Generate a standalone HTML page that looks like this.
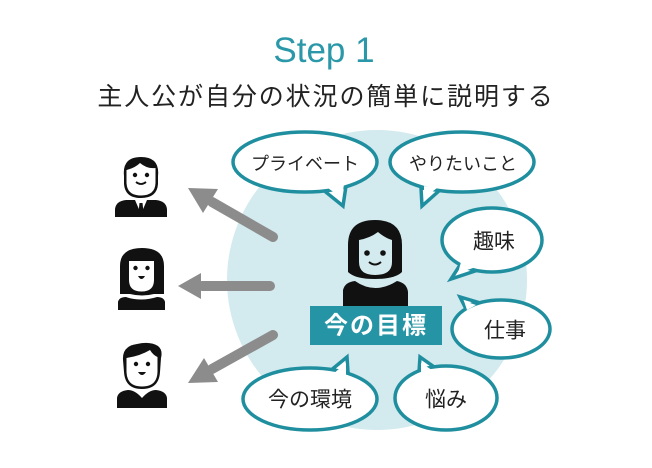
<!DOCTYPE html>
<html><head><meta charset="utf-8"><style>
html,body{margin:0;padding:0;background:#fff;}
svg{display:block;}
text{font-family:"Liberation Sans","Noto Sans CJK JP",sans-serif;}
</style></head><body>
<svg width="652" height="468" viewBox="0 0 652 468" xmlns="http://www.w3.org/2000/svg">
<rect width="652" height="468" fill="#fff"/>
<text x="324" y="62" text-anchor="middle" font-size="35" fill="#2a98a9">Step 1</text>
<text x="326" y="105" text-anchor="middle" font-size="25" letter-spacing="1.9" fill="#222">主人公が自分の状況の簡単に説明する</text>

<circle cx="377" cy="280" r="150" fill="#d3eaee"/>

<!-- arrows -->
<g fill="#8c8c8c" stroke="#8c8c8c">
<line x1="273" y1="237" x2="212" y2="202" stroke-width="10" stroke-linecap="round"/>
<polygon points="188,188 218,189 203,213" stroke="none"/>
<line x1="270" y1="286" x2="202" y2="286" stroke-width="10" stroke-linecap="round"/>
<polygon points="178,286 201,273 201,299" stroke="none"/>
<line x1="273" y1="335" x2="212" y2="369" stroke-width="10" stroke-linecap="round"/>
<polygon points="188,383 218,382 204,358" stroke="none"/>
</g>

<!-- bubbles -->
<g stroke="#1f8fa0" stroke-width="3.5" fill="#fff" stroke-linejoin="miter">
<polygon points="322,189 346,186 343,206"/>
<ellipse cx="305" cy="162" rx="72" ry="30"/>
<polygon points="421,188 440,190 422,206"/>
<ellipse cx="462" cy="162" rx="72" ry="30"/>
<polygon points="460,265 478,270 451,279"/>
<ellipse cx="492" cy="240" rx="50" ry="32"/>
<polygon points="465,307 477,302 460,297"/>
<ellipse cx="501" cy="329" rx="49" ry="29"/>
<polygon points="330,371 348,372 347,357"/>
<ellipse cx="310" cy="399" rx="67" ry="31"/>
<polygon points="419,372 437,369 420,357"/>
<ellipse cx="446" cy="398" rx="51" ry="32"/>
</g>
<g fill="#fff">
<polygon points="325,186 344,184 342,198"/>
<polygon points="424,186 437,188 424,198"/>
<polygon points="461,262 476,267 458,273"/>
<polygon points="467,310 476,305 464,301"/>
<polygon points="333,374 346,375 346,363"/>
<polygon points="421,375 435,372 421,363"/>
</g>

<g font-size="18" fill="#222" text-anchor="middle" dominant-baseline="central">
<text x="305" y="164">プライベート</text>
<text x="463" y="164">やりたいこと</text>
<text x="494" y="242" font-size="21">趣味</text>
<text x="505" y="331" font-size="21">仕事</text>
<text x="310" y="400" font-size="21">今の環境</text>
<text x="446" y="400" font-size="21">悩み</text>
</g>

<!-- central woman -->
<path d="M348,272 L348,245 Q348,220 375,220 Q402,220 402,245 L402,272 Q395,279 375,279 Q355,279 348,272 Z" fill="#111"/>
<path d="M359,240 Q370,238 378,232 Q385,238 392,240 L392,262 Q392,275 375,275 Q359,275 359,262 Z" fill="#d3eaee"/>
<circle cx="367" cy="253" r="2.8" fill="#111"/>
<circle cx="383" cy="253" r="2.8" fill="#111"/>
<path d="M369,262 Q375,267 381,262" stroke="#111" stroke-width="2" fill="none"/>
<path d="M343,306 L343,290 Q345,282 355,281 Q375,295 397,281 Q407,283 408,292 L408,306 Z" fill="#111"/>

<rect x="310" y="306" width="132" height="39" fill="#2594a5"/>
<text x="376" y="326" text-anchor="middle" dominant-baseline="central" font-size="24" letter-spacing="2" fill="#fff" font-weight="bold">今の目標</text>

<!-- man 1 -->
<path d="M124,176 Q122,157 141,157 Q160,157 158,176 L158,184 Q157,198 141,198 Q125,198 124,184 Z" fill="#111"/>
<path d="M126.5,170 Q135,168 140,163 Q147,169 155.5,168 L155.5,183 Q155,195.5 141,195.5 Q127,195.5 126.5,183 Z" fill="#fff"/>
<circle cx="135" cy="175" r="2.2" fill="#111"/>
<circle cx="147" cy="175" r="2.2" fill="#111"/>
<path d="M136,182 Q141,186 146,182" stroke="#111" stroke-width="1.8" fill="none"/>
<path d="M115,217 L115,209 Q116,201 126,200 L156,200 Q166,201 167,209 L167,217 Z" fill="#111"/>
<polygon points="135,200 147,200 141,214" fill="#fff"/>
<polygon points="139.5,203 142.5,203 143.5,212 141,216 138.5,212" fill="#111"/>

<!-- woman left -->
<path d="M120,294 L120,266 Q120,248 142,248 Q164,248 164,266 L164,294 L154,294 Q142,297 130,294 Z" fill="#111"/>
<path d="M129,261 L154,261 L154,280 Q154,291.5 141.5,291.5 Q129,291.5 129,280 Z" fill="#fff"/>
<circle cx="135.5" cy="268" r="2.2" fill="#111"/>
<circle cx="147.5" cy="268" r="2.2" fill="#111"/>
<path d="M138,276 Q141.5,282 145,276 Z" fill="#111"/>
<path d="M118,310 L118,302 Q119,297 126,297 Q141,302 157,297 Q164,297 165,302 L165,310 Z" fill="#111"/>

<!-- man 3 -->
<path d="M123,360 Q122,346 137,344 Q150,341 158,346 Q163,350 161,358 L160,372 Q159,389 142,389 Q125,389 124,372 Z" fill="#111"/>
<path d="M126.5,358 Q140,356 150,350 Q153,355 157.5,357 L157.5,372 Q157,386.5 142,386.5 Q127,386.5 126.5,372 Z" fill="#fff"/>
<circle cx="136" cy="364" r="2.2" fill="#111"/>
<circle cx="148" cy="364" r="2.2" fill="#111"/>
<path d="M138,372 Q142,378 146,372 Z" fill="#111"/>
<path d="M117,408 L117,398 Q118,391 128,390 Q135,390 142,398 Q149,390 156,390 Q166,391 167,398 L167,408 Z" fill="#111"/>
</svg>
</body></html>
